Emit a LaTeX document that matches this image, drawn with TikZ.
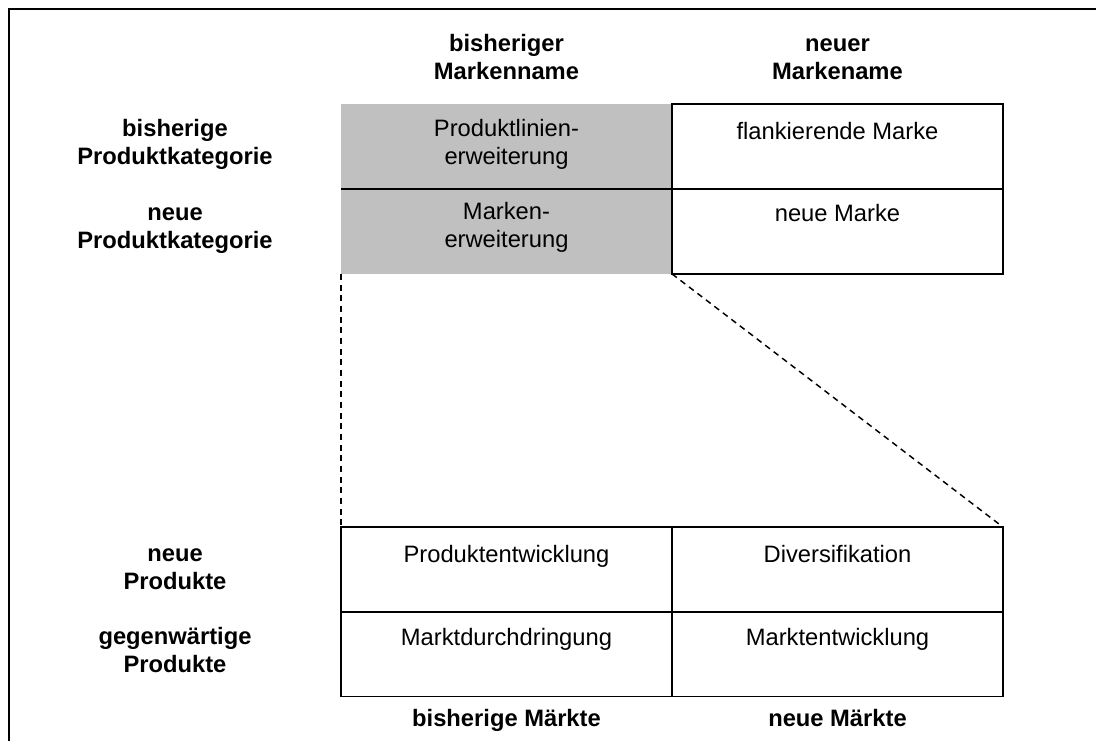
\documentclass[tikz,border=0pt]{standalone}
\usepackage{fontspec}
\setmainfont{Liberation Sans}
\definecolor{cellgray}{HTML}{C0C0C0}
\begin{document}
\begin{tikzpicture}[x=0.75pt,y=-0.75pt,
  txt/.style={font=\fontsize{17.8}{20.5}\selectfont, align=center, anchor=base, inner sep=0pt},
  hdr/.style={txt, font=\bfseries\fontsize{17.8}{20.5}\selectfont},
  cellbox/.style={draw, line width=1.3pt, inner sep=0pt, outer sep=0pt,
    minimum width=248.25pt, minimum height=63.6pt},
  shaded/.style={cellbox, draw=none, fill=cellgray},
  guide/.style={line width=1.1pt, dash pattern=on 4.5pt off 3.5pt}]
\useasboundingbox (0,0) rectangle (1096,740);
\clip (0,0) rectangle (1096,740);

% outer frame (open towards the lower right)
\coordinate (frameBL) at (8.5,760);
\coordinate (frameTL) at (8.5,8.5);
\coordinate (frameTR) at (1120,8.5);
\draw[line width=1.5pt] (frameBL) -- (frameTL) -- (frameTR);

% brand matrix
\node[shaded]  (pl) at (506.5,146.5) {};
\node[shaded]  (me) at (506.5,231.5) {};
\node[cellbox] (fm) at (837.5,146.5) {};
\node[cellbox] (nm) at (837.5,231.5) {};
\draw[line width=1.3pt] (pl.south west) -- (pl.south east);

% product/market matrix
\node[cellbox] (pe) at (506.5,569.5) {};
\node[cellbox] (dv) at (837.5,569.5) {};
\node[cellbox] (md) at (506.5,654) {};
\node[cellbox] (mt) at (837.5,654) {};

% zoom lines between the two matrices
\draw[guide] (me.south west) -- (pe.north west);
\draw[guide] (me.south east) -- (dv.north east);

% column headings (base = last line)
\node[hdr] (h1) at (506.5,79) {bisheriger\\Markenname};
\node[hdr] (h2) at (837.5,79) {neuer\\Markename};

% row headings, upper matrix
\node[hdr] (r1) at (175,164) {bisherige\\Produktkategorie};
\node[hdr] (r2) at (175,248) {neue\\Produktkategorie};

% row headings, lower matrix
\node[hdr] (r3) at (175,589) {neue\\Produkte};
\node[hdr] (r4) at (175,672) {gegenwärtige\\Produkte};

% column headings, lower matrix
\node[hdr] (b1) at (506.5,726) {bisherige Märkte};
\node[hdr] (b2) at (837.5,726) {neue Märkte};

% cell texts
\node[txt] (tpl) at (506.5,164) {Produktlinien-\\erweiterung};
\node[txt] (tfm) at (837.5,139) {flankierende Marke};
\node[txt] (tme) at (506.5,247) {Marken-\\erweiterung};
\node[txt] (tnm) at (837.5,221) {neue Marke};
\node[txt] (tpe) at (506.5,562) {Produktentwicklung};
\node[txt] (tdv) at (837.5,562) {Diversifikation};
\node[txt] (tmd) at (506.5,645) {Marktdurchdringung};
\node[txt] (tmt) at (837.5,645) {Marktentwicklung};
\end{tikzpicture}
\end{document}
